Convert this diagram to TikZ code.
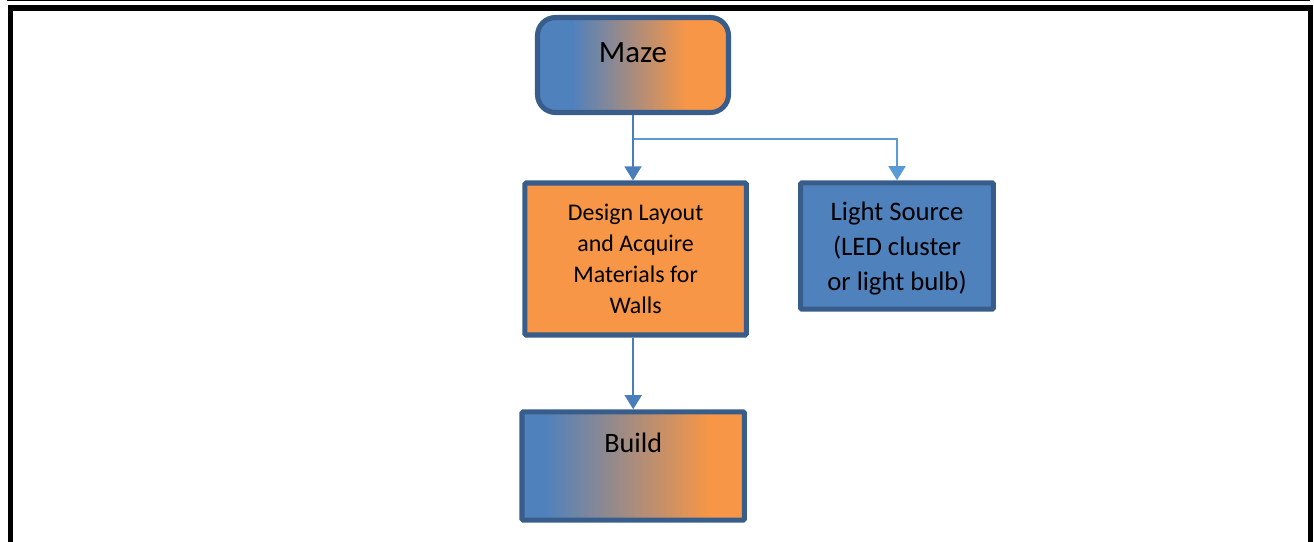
\documentclass[tikz,border=0pt]{standalone}
\usepackage{fontspec}
\setmainfont{Carlito}
\usetikzlibrary{arrows.meta}

\definecolor{boxblue}{HTML}{4F81BD}
\definecolor{boxorange}{HTML}{F79646}
\definecolor{boxedge}{HTML}{385D8A}
\definecolor{linkblue}{HTML}{4A7EBB}
\definecolor{linklight}{HTML}{5B9BD5}

% blue-to-orange fades for the first and last step
\pgfdeclarehorizontalshading{mazefade}{100bp}{color(0bp)=(boxblue); color(34bp)=(boxblue);
    color(64bp)=(boxorange); color(100bp)=(boxorange)}
\pgfdeclarehorizontalshading{buildfade}{100bp}{color(0bp)=(boxblue); color(30bp)=(boxblue);
    color(67bp)=(boxorange); color(100bp)=(boxorange)}

\tikzset{
    plan block/.style={
        draw=boxedge,line width=3.6pt,rounded corners=1pt,
        align=center,inner sep=0pt
    },
    link/.style={
        linkblue,line width=1.5pt,
        -{Triangle[width=12pt,length=10pt]}
    }
}

\begin{document}
\begin{tikzpicture}
        \useasboundingbox (0,0) rectangle (32.85,-13.55);
        \clip (0,0) rectangle (32.85,-13.55);
        % page frame
        \draw[line width=0.7pt] (0.18,-0.0125) -- (32.75,-0.0125);
        \draw[line width=3.6pt] (0.2625,-14) |- (32.7625,-0.2) -- (32.7625,-14);
        \node[plan block,rounded corners=0.45cm,shade,shading=mazefade,
            minimum width=4.775cm,minimum height=2.375cm,
            font=\fontsize{22}{26}\selectfont,text height=0.5cm,text depth=0.6cm]
            (maze) at (15.825,-1.625) {Maze};
        \node[plan block,fill=boxorange,minimum width=5.54cm,minimum height=3.8cm,
            font=\fontsize{17}{22}\selectfont]
            (design) at (15.89,-6.475) {Design Layout\\and Acquire\\Materials for\\Walls};
        \node[plan block,fill=boxblue,minimum width=4.82cm,minimum height=3.16cm,
            font=\fontsize{19}{25}\selectfont,text depth=0cm]
            (light) at (22.425,-6.15) {Light Source\\(LED cluster\\or light bulb)};
        \node[plan block,shade,shading=buildfade,
            minimum width=5.56cm,minimum height=2.71cm,
            font=\fontsize{20}{24}\selectfont,text height=0.5cm,text depth=1.2cm]
            (build) at (15.83,-11.65) {Build};
        \draw[link,linklight] (maze.south) -- ++(0,-0.6) -| (light.north);
        \draw[link] (maze.south) -- (maze.south |- design.north);
        \draw[link] (build.north |- design.south) -- (build.north);
    \end{tikzpicture}
\end{document}
